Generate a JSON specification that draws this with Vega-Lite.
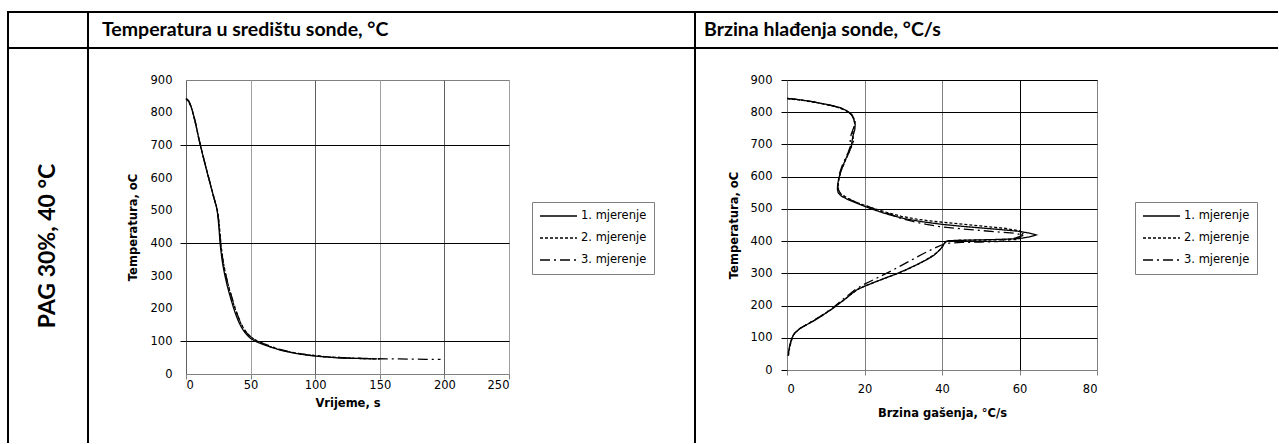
{
  "$schema": "https://vega.github.io/schema/vega-lite/v6.json",
  "padding": {"left": 7, "top": 11, "right": 0, "bottom": 0},
  "background": "white",
  "spacing": 0,
  "resolve": {"scale": {"strokeDash": "independent"}, "legend": {"strokeDash": "independent"}},
  "config": {
    "view": {"stroke": null},
    "concat": {"spacing": 0},
    "font": "DejaVu Sans",
    "axis": {"labelFont": "DejaVu Sans", "labelFontSize": 11.5, "labelColor": "black", "titleFont": "DejaVu Sans", "titleFontSize": 11.5, "titleFontWeight": "bold", "titleColor": "black", "domain": false},
    "legend": {"orient": "none", "title": null, "symbolType": "stroke", "symbolSize": 1369, "symbolStrokeWidth": 1.5, "symbolStrokeColor": "black", "clipHeight": 14, "rowPadding": 8, "labelOffset": 3, "padding": 7, "strokeColor": "#808080", "fillColor": "white", "labelFont": "DejaVu Sans", "labelFontSize": 11.5, "labelColor": "black"}
  },
  "datasets": {
    "temp": [
      {"m":"1. mjerenje","t":0,"T":843},{"m":"1. mjerenje","t":1,"T":841},{"m":"1. mjerenje","t":2,"T":836},{"m":"1. mjerenje","t":3,"T":829},{"m":"1. mjerenje","t":4,"T":818},{"m":"1. mjerenje","t":5,"T":805},{"m":"1. mjerenje","t":6,"T":790},{"m":"1. mjerenje","t":7,"T":775},{"m":"1. mjerenje","t":8,"T":757},{"m":"1. mjerenje","t":9,"T":738},{"m":"1. mjerenje","t":10,"T":719},{"m":"1. mjerenje","t":11,"T":702},{"m":"1. mjerenje","t":12,"T":686},{"m":"1. mjerenje","t":13,"T":670},{"m":"1. mjerenje","t":14,"T":654},{"m":"1. mjerenje","t":15,"T":638},{"m":"1. mjerenje","t":16,"T":623},{"m":"1. mjerenje","t":17,"T":608},{"m":"1. mjerenje","t":18,"T":593},{"m":"1. mjerenje","t":19,"T":578},{"m":"1. mjerenje","t":20,"T":563},{"m":"1. mjerenje","t":21,"T":548},{"m":"1. mjerenje","t":22,"T":534},{"m":"1. mjerenje","t":23,"T":520},{"m":"1. mjerenje","t":23.8,"T":507},{"m":"1. mjerenje","t":24.4,"T":492},{"m":"1. mjerenje","t":25,"T":470},{"m":"1. mjerenje","t":25.7,"T":438},{"m":"1. mjerenje","t":26.4,"T":400},{"m":"1. mjerenje","t":27,"T":378},{"m":"1. mjerenje","t":27.7,"T":356},{"m":"1. mjerenje","t":28.5,"T":334},{"m":"1. mjerenje","t":29.3,"T":317},{"m":"1. mjerenje","t":30.2,"T":300},{"m":"1. mjerenje","t":31.1,"T":284},{"m":"1. mjerenje","t":32,"T":269},{"m":"1. mjerenje","t":33,"T":254},{"m":"1. mjerenje","t":34,"T":240},{"m":"1. mjerenje","t":35.3,"T":222},{"m":"1. mjerenje","t":36.7,"T":204},{"m":"1. mjerenje","t":38,"T":188},{"m":"1. mjerenje","t":39.5,"T":172},{"m":"1. mjerenje","t":41,"T":158},{"m":"1. mjerenje","t":42.5,"T":146},{"m":"1. mjerenje","t":44,"T":136},{"m":"1. mjerenje","t":46,"T":125},{"m":"1. mjerenje","t":48,"T":116},{"m":"1. mjerenje","t":50,"T":109},{"m":"1. mjerenje","t":53,"T":102},{"m":"1. mjerenje","t":56,"T":96},{"m":"1. mjerenje","t":60,"T":90},{"m":"1. mjerenje","t":65,"T":83},{"m":"1. mjerenje","t":70,"T":77},{"m":"1. mjerenje","t":75,"T":71},{"m":"1. mjerenje","t":80,"T":67},{"m":"1. mjerenje","t":85,"T":63},{"m":"1. mjerenje","t":90,"T":60},{"m":"1. mjerenje","t":95,"T":57},{"m":"1. mjerenje","t":100,"T":55},{"m":"1. mjerenje","t":105,"T":53},{"m":"1. mjerenje","t":110,"T":52},{"m":"1. mjerenje","t":115,"T":50},{"m":"1. mjerenje","t":120,"T":49},{"m":"1. mjerenje","t":130,"T":48},{"m":"1. mjerenje","t":140,"T":47},{"m":"1. mjerenje","t":148,"T":46},
      {"m":"2. mjerenje","t":0,"T":842},{"m":"2. mjerenje","t":2,"T":835},{"m":"2. mjerenje","t":4,"T":817},{"m":"2. mjerenje","t":6,"T":789},{"m":"2. mjerenje","t":8,"T":756},{"m":"2. mjerenje","t":10,"T":718},{"m":"2. mjerenje","t":12,"T":686},{"m":"2. mjerenje","t":14,"T":655},{"m":"2. mjerenje","t":16,"T":624},{"m":"2. mjerenje","t":18,"T":594},{"m":"2. mjerenje","t":20,"T":564},{"m":"2. mjerenje","t":22,"T":535},{"m":"2. mjerenje","t":23.5,"T":514},{"m":"2. mjerenje","t":24.6,"T":494},{"m":"2. mjerenje","t":25.5,"T":466},{"m":"2. mjerenje","t":26.3,"T":432},{"m":"2. mjerenje","t":27,"T":400},{"m":"2. mjerenje","t":27.7,"T":376},{"m":"2. mjerenje","t":28.5,"T":352},{"m":"2. mjerenje","t":29.4,"T":330},{"m":"2. mjerenje","t":30.5,"T":308},{"m":"2. mjerenje","t":31.6,"T":289},{"m":"2. mjerenje","t":32.7,"T":272},{"m":"2. mjerenje","t":34,"T":252},{"m":"2. mjerenje","t":35.5,"T":232},{"m":"2. mjerenje","t":37,"T":212},{"m":"2. mjerenje","t":38.5,"T":194},{"m":"2. mjerenje","t":40,"T":178},{"m":"2. mjerenje","t":41.5,"T":163},{"m":"2. mjerenje","t":43,"T":150},{"m":"2. mjerenje","t":45,"T":137},{"m":"2. mjerenje","t":47,"T":126},{"m":"2. mjerenje","t":50,"T":114},{"m":"2. mjerenje","t":53,"T":105},{"m":"2. mjerenje","t":57,"T":97},{"m":"2. mjerenje","t":62,"T":88},{"m":"2. mjerenje","t":68,"T":80},{"m":"2. mjerenje","t":75,"T":72},{"m":"2. mjerenje","t":82,"T":66},{"m":"2. mjerenje","t":90,"T":61},{"m":"2. mjerenje","t":100,"T":56},{"m":"2. mjerenje","t":110,"T":52},{"m":"2. mjerenje","t":120,"T":50},{"m":"2. mjerenje","t":130,"T":48},{"m":"2. mjerenje","t":140,"T":47},{"m":"2. mjerenje","t":150,"T":46},
      {"m":"3. mjerenje","t":0,"T":843},{"m":"3. mjerenje","t":2,"T":836},{"m":"3. mjerenje","t":4,"T":818},{"m":"3. mjerenje","t":6,"T":791},{"m":"3. mjerenje","t":8,"T":758},{"m":"3. mjerenje","t":10,"T":720},{"m":"3. mjerenje","t":12,"T":687},{"m":"3. mjerenje","t":14,"T":655},{"m":"3. mjerenje","t":16,"T":624},{"m":"3. mjerenje","t":18,"T":594},{"m":"3. mjerenje","t":20,"T":563},{"m":"3. mjerenje","t":22,"T":533},{"m":"3. mjerenje","t":23.5,"T":512},{"m":"3. mjerenje","t":24.5,"T":495},{"m":"3. mjerenje","t":25.3,"T":470},{"m":"3. mjerenje","t":26,"T":440},{"m":"3. mjerenje","t":26.7,"T":405},{"m":"3. mjerenje","t":27.4,"T":380},{"m":"3. mjerenje","t":28.2,"T":358},{"m":"3. mjerenje","t":29,"T":338},{"m":"3. mjerenje","t":30,"T":318},{"m":"3. mjerenje","t":31.2,"T":297},{"m":"3. mjerenje","t":32.5,"T":276},{"m":"3. mjerenje","t":34,"T":255},{"m":"3. mjerenje","t":35.5,"T":235},{"m":"3. mjerenje","t":37,"T":215},{"m":"3. mjerenje","t":38.5,"T":197},{"m":"3. mjerenje","t":40,"T":180},{"m":"3. mjerenje","t":42,"T":160},{"m":"3. mjerenje","t":44,"T":143},{"m":"3. mjerenje","t":46,"T":130},{"m":"3. mjerenje","t":48.5,"T":119},{"m":"3. mjerenje","t":51,"T":111},{"m":"3. mjerenje","t":55,"T":102},{"m":"3. mjerenje","t":60,"T":93},{"m":"3. mjerenje","t":66,"T":84},{"m":"3. mjerenje","t":72,"T":76},{"m":"3. mjerenje","t":80,"T":68},{"m":"3. mjerenje","t":88,"T":62},{"m":"3. mjerenje","t":96,"T":58},{"m":"3. mjerenje","t":105,"T":54},{"m":"3. mjerenje","t":115,"T":51},{"m":"3. mjerenje","t":125,"T":49},{"m":"3. mjerenje","t":135,"T":48},{"m":"3. mjerenje","t":145,"T":47},{"m":"3. mjerenje","t":155,"T":46},{"m":"3. mjerenje","t":165,"T":46},{"m":"3. mjerenje","t":175,"T":45.5},{"m":"3. mjerenje","t":185,"T":45},{"m":"3. mjerenje","t":197,"T":45}
    ],
    "rate": [
      {"m":"1. mjerenje","r":0,"T":843},{"m":"1. mjerenje","r":3,"T":839},{"m":"1. mjerenje","r":6,"T":834},{"m":"1. mjerenje","r":9,"T":827},{"m":"1. mjerenje","r":12,"T":820},{"m":"1. mjerenje","r":14,"T":813},{"m":"1. mjerenje","r":15.5,"T":804},{"m":"1. mjerenje","r":16.6,"T":793},{"m":"1. mjerenje","r":17.2,"T":779},{"m":"1. mjerenje","r":17.6,"T":762},{"m":"1. mjerenje","r":17.5,"T":746},{"m":"1. mjerenje","r":17.1,"T":730},{"m":"1. mjerenje","r":16.8,"T":712},{"m":"1. mjerenje","r":16.6,"T":694},{"m":"1. mjerenje","r":16,"T":675},{"m":"1. mjerenje","r":15.2,"T":656},{"m":"1. mjerenje","r":14.5,"T":636},{"m":"1. mjerenje","r":13.9,"T":616},{"m":"1. mjerenje","r":13.4,"T":596},{"m":"1. mjerenje","r":13.1,"T":578},{"m":"1. mjerenje","r":13,"T":562},{"m":"1. mjerenje","r":13.2,"T":550},{"m":"1. mjerenje","r":14,"T":540},{"m":"1. mjerenje","r":15.5,"T":530},{"m":"1. mjerenje","r":17.5,"T":520},{"m":"1. mjerenje","r":19.8,"T":509},{"m":"1. mjerenje","r":22,"T":499},{"m":"1. mjerenje","r":24.5,"T":489},{"m":"1. mjerenje","r":27.5,"T":478},{"m":"1. mjerenje","r":31,"T":468},{"m":"1. mjerenje","r":35,"T":460},{"m":"1. mjerenje","r":40,"T":452},{"m":"1. mjerenje","r":46,"T":445},{"m":"1. mjerenje","r":53,"T":438},{"m":"1. mjerenje","r":59.4,"T":431},{"m":"1. mjerenje","r":62.5,"T":425},{"m":"1. mjerenje","r":64.3,"T":419},{"m":"1. mjerenje","r":62.5,"T":413},{"m":"1. mjerenje","r":60,"T":408},{"m":"1. mjerenje","r":54,"T":405},{"m":"1. mjerenje","r":47,"T":403},{"m":"1. mjerenje","r":41.5,"T":401},{"m":"1. mjerenje","r":40.8,"T":396},{"m":"1. mjerenje","r":40.3,"T":388},{"m":"1. mjerenje","r":39.8,"T":378},{"m":"1. mjerenje","r":39,"T":368},{"m":"1. mjerenje","r":37.8,"T":355},{"m":"1. mjerenje","r":36,"T":342},{"m":"1. mjerenje","r":33.5,"T":327},{"m":"1. mjerenje","r":30.5,"T":310},{"m":"1. mjerenje","r":27.5,"T":295},{"m":"1. mjerenje","r":24,"T":279},{"m":"1. mjerenje","r":20.6,"T":263},{"m":"1. mjerenje","r":18.2,"T":250},{"m":"1. mjerenje","r":16.6,"T":236},{"m":"1. mjerenje","r":15,"T":220},{"m":"1. mjerenje","r":13.2,"T":204},{"m":"1. mjerenje","r":11.7,"T":190},{"m":"1. mjerenje","r":10.2,"T":178},{"m":"1. mjerenje","r":8.6,"T":165},{"m":"1. mjerenje","r":6.8,"T":152},{"m":"1. mjerenje","r":5,"T":140},{"m":"1. mjerenje","r":3.4,"T":129},{"m":"1. mjerenje","r":2.2,"T":117},{"m":"1. mjerenje","r":1.6,"T":108},{"m":"1. mjerenje","r":1.2,"T":96},{"m":"1. mjerenje","r":0.9,"T":84},{"m":"1. mjerenje","r":0.6,"T":70},{"m":"1. mjerenje","r":0.4,"T":56},{"m":"1. mjerenje","r":0.3,"T":44},
      {"m":"2. mjerenje","r":0,"T":842},{"m":"2. mjerenje","r":4,"T":837},{"m":"2. mjerenje","r":8,"T":829},{"m":"2. mjerenje","r":12,"T":819},{"m":"2. mjerenje","r":15,"T":807},{"m":"2. mjerenje","r":16.8,"T":792},{"m":"2. mjerenje","r":17.6,"T":772},{"m":"2. mjerenje","r":17.3,"T":752},{"m":"2. mjerenje","r":16.9,"T":732},{"m":"2. mjerenje","r":17.2,"T":712},{"m":"2. mjerenje","r":16.5,"T":690},{"m":"2. mjerenje","r":15.6,"T":665},{"m":"2. mjerenje","r":14.8,"T":642},{"m":"2. mjerenje","r":14,"T":620},{"m":"2. mjerenje","r":13.5,"T":598},{"m":"2. mjerenje","r":13.2,"T":578},{"m":"2. mjerenje","r":13.3,"T":558},{"m":"2. mjerenje","r":14,"T":545},{"m":"2. mjerenje","r":15.8,"T":532},{"m":"2. mjerenje","r":18,"T":520},{"m":"2. mjerenje","r":20.5,"T":509},{"m":"2. mjerenje","r":23,"T":499},{"m":"2. mjerenje","r":26,"T":488},{"m":"2. mjerenje","r":29.5,"T":477},{"m":"2. mjerenje","r":33.5,"T":468},{"m":"2. mjerenje","r":38,"T":461},{"m":"2. mjerenje","r":44,"T":454},{"m":"2. mjerenje","r":50,"T":447},{"m":"2. mjerenje","r":56,"T":440},{"m":"2. mjerenje","r":60,"T":432},{"m":"2. mjerenje","r":61,"T":426},{"m":"2. mjerenje","r":60.5,"T":418},{"m":"2. mjerenje","r":59.8,"T":410},{"m":"2. mjerenje","r":59.5,"T":405},{"m":"2. mjerenje","r":52,"T":403.5},{"m":"2. mjerenje","r":43,"T":402.5},{"m":"2. mjerenje","r":41,"T":399},{"m":"2. mjerenje","r":40.5,"T":390},{"m":"2. mjerenje","r":40,"T":380},{"m":"2. mjerenje","r":39.2,"T":370},{"m":"2. mjerenje","r":37.9,"T":357},{"m":"2. mjerenje","r":36,"T":343},{"m":"2. mjerenje","r":33.8,"T":328},{"m":"2. mjerenje","r":30.8,"T":311},{"m":"2. mjerenje","r":27.8,"T":296},{"m":"2. mjerenje","r":24.2,"T":280},{"m":"2. mjerenje","r":20.8,"T":264},{"m":"2. mjerenje","r":18.3,"T":251},{"m":"2. mjerenje","r":16.7,"T":237},{"m":"2. mjerenje","r":15.1,"T":221},{"m":"2. mjerenje","r":13.3,"T":205},{"m":"2. mjerenje","r":11.8,"T":191},{"m":"2. mjerenje","r":10.3,"T":179},{"m":"2. mjerenje","r":8.7,"T":166},{"m":"2. mjerenje","r":6.9,"T":153},{"m":"2. mjerenje","r":5.1,"T":141},{"m":"2. mjerenje","r":3.5,"T":130},{"m":"2. mjerenje","r":2.3,"T":118},{"m":"2. mjerenje","r":1.7,"T":109},{"m":"2. mjerenje","r":1.3,"T":97},{"m":"2. mjerenje","r":1,"T":85},{"m":"2. mjerenje","r":0.7,"T":71},{"m":"2. mjerenje","r":0.5,"T":57},{"m":"2. mjerenje","r":0.4,"T":45},
      {"m":"3. mjerenje","r":0,"T":843},{"m":"3. mjerenje","r":3,"T":839},{"m":"3. mjerenje","r":7,"T":832},{"m":"3. mjerenje","r":11,"T":822},{"m":"3. mjerenje","r":14,"T":812},{"m":"3. mjerenje","r":16,"T":800},{"m":"3. mjerenje","r":17,"T":787},{"m":"3. mjerenje","r":17.4,"T":770},{"m":"3. mjerenje","r":17.2,"T":752},{"m":"3. mjerenje","r":16.6,"T":733},{"m":"3. mjerenje","r":16.3,"T":714},{"m":"3. mjerenje","r":16.4,"T":696},{"m":"3. mjerenje","r":15.8,"T":676},{"m":"3. mjerenje","r":15,"T":655},{"m":"3. mjerenje","r":14.2,"T":633},{"m":"3. mjerenje","r":13.6,"T":612},{"m":"3. mjerenje","r":13.3,"T":592},{"m":"3. mjerenje","r":13.1,"T":575},{"m":"3. mjerenje","r":13.2,"T":560},{"m":"3. mjerenje","r":13.8,"T":548},{"m":"3. mjerenje","r":15,"T":537},{"m":"3. mjerenje","r":16.8,"T":526},{"m":"3. mjerenje","r":19,"T":515},{"m":"3. mjerenje","r":21.5,"T":505},{"m":"3. mjerenje","r":24,"T":494},{"m":"3. mjerenje","r":27,"T":482},{"m":"3. mjerenje","r":29.5,"T":470},{"m":"3. mjerenje","r":32.5,"T":461},{"m":"3. mjerenje","r":36,"T":452},{"m":"3. mjerenje","r":40,"T":444},{"m":"3. mjerenje","r":45,"T":438},{"m":"3. mjerenje","r":50,"T":433},{"m":"3. mjerenje","r":55,"T":428},{"m":"3. mjerenje","r":59,"T":424},{"m":"3. mjerenje","r":61,"T":418},{"m":"3. mjerenje","r":59,"T":410},{"m":"3. mjerenje","r":57,"T":403},{"m":"3. mjerenje","r":55,"T":399},{"m":"3. mjerenje","r":50,"T":397},{"m":"3. mjerenje","r":45,"T":396},{"m":"3. mjerenje","r":42,"T":394},{"m":"3. mjerenje","r":40.5,"T":391},{"m":"3. mjerenje","r":38.8,"T":382},{"m":"3. mjerenje","r":37,"T":372},{"m":"3. mjerenje","r":35,"T":360},{"m":"3. mjerenje","r":33,"T":347},{"m":"3. mjerenje","r":31,"T":334},{"m":"3. mjerenje","r":29,"T":321},{"m":"3. mjerenje","r":26.8,"T":307},{"m":"3. mjerenje","r":24.3,"T":292},{"m":"3. mjerenje","r":21.8,"T":277},{"m":"3. mjerenje","r":19.6,"T":264},{"m":"3. mjerenje","r":17.8,"T":251},{"m":"3. mjerenje","r":16.2,"T":236},{"m":"3. mjerenje","r":14.6,"T":221},{"m":"3. mjerenje","r":13,"T":205},{"m":"3. mjerenje","r":11.6,"T":191},{"m":"3. mjerenje","r":10.1,"T":179},{"m":"3. mjerenje","r":8.5,"T":166},{"m":"3. mjerenje","r":6.7,"T":153},{"m":"3. mjerenje","r":4.9,"T":140},{"m":"3. mjerenje","r":3.3,"T":129},{"m":"3. mjerenje","r":2.2,"T":118},{"m":"3. mjerenje","r":1.6,"T":108},{"m":"3. mjerenje","r":1.2,"T":96},{"m":"3. mjerenje","r":0.9,"T":84},{"m":"3. mjerenje","r":0.6,"T":70},{"m":"3. mjerenje","r":0.4,"T":56},{"m":"3. mjerenje","r":0.3,"T":44}
    ]
  },
  "hconcat": [
    {"width": 2, "height": 432, "data": {"values": []}, "mark": "point", "view": {"fill": "black", "stroke": null}},
    {
      "spacing": 0,
      "vconcat": [
        {"width": 78, "height": 2, "data": {"values": []}, "mark": "point", "view": {"fill": "black", "stroke": null}},
        {"width": 78, "height": 34, "data": {"values": []}, "mark": "point"},
        {"width": 78, "height": 2, "data": {"values": []}, "mark": "point", "view": {"fill": "black", "stroke": null}},
        {"width": 78, "height": 394, "data": {"values": [{"label": "PAG 30%, 40 °C"}]}, "mark": {"type": "text", "angle": 270, "font": "Lato", "fontWeight": "bold", "fontSize": 23, "align": "center", "baseline": "middle", "color": "black"}, "encoding": {"text": {"field": "label"}}}
      ]
    },
    {"width": 2, "height": 432, "data": {"values": []}, "mark": "point", "view": {"fill": "black", "stroke": null}},
    {
      "spacing": 0,
      "resolve": {"scale": {"strokeDash": "independent"}, "legend": {"strokeDash": "independent"}},
      "vconcat": [
        {"width": 605, "height": 2, "data": {"values": []}, "mark": "point", "view": {"fill": "black", "stroke": null}},
        {"width": 26, "height": 34, "data": {"values": [{"label": "Temperatura u središtu sonde, °C"}]}, "mark": {"type": "text", "font": "Lato", "fontWeight": "bold", "fontSize": 19.5, "align": "left", "baseline": "middle", "color": "black"}, "encoding": {"text": {"field": "label"}}},
        {"width": 605, "height": 2, "data": {"values": []}, "mark": "point", "view": {"fill": "black", "stroke": null}},
        {
          "spacing": 0,
          "resolve": {"scale": {"strokeDash": "independent"}, "legend": {"strokeDash": "independent"}},
          "hconcat": [
            {"width": 37, "height": 1, "data": {"values": []}, "mark": "point"},
            {
              "spacing": 0,
              "resolve": {"scale": {"strokeDash": "independent"}, "legend": {"strokeDash": "independent"}},
              "vconcat": [
                {"width": 1, "height": 24, "data": {"values": []}, "mark": "point"},
                {
                  "width": 323, "height": 294,
                  "data": {"name": "temp"},
                  "view": {"stroke": "#808080", "strokeWidth": 1},
                  "mark": {"type": "line", "color": "black", "strokeWidth": 1.3},
                  "encoding": {
                    "x": {"field": "t", "type": "quantitative", "scale": {"domain": [0, 250], "nice": false},
                      "axis": {"title": "Vrijeme, s", "values": [0, 50, 100, 150, 200, 250], "grid": true,
                        "gridColor": {"condition": {"test": "datum.value % 100 === 0", "value": "#606060"}, "value": "#a0a0a0"},
                        "tickColor": "#808080", "tickSize": 5, "labelPadding": 0, "titlePadding": 7}},
                    "y": {"field": "T", "type": "quantitative", "scale": {"domain": [0, 900], "nice": false},
                      "axis": {"title": "Temperatura, oC", "values": [0, 100, 200, 300, 400, 500, 600, 700, 800, 900], "grid": true,
                        "gridColor": "black",
                        "gridOpacity": {"condition": {"test": "datum.value === 100 || datum.value === 400 || datum.value === 700", "value": 1}, "value": 0},
                        "tickColor": "black",
                        "tickOpacity": {"condition": {"test": "datum.value === 100 || datum.value === 400 || datum.value === 700", "value": 1}, "value": 0},
                        "tickSize": 6, "labelPadding": 8, "titlePadding": 12}},
                    "strokeDash": {"field": "m", "type": "nominal",
                      "scale": {"domain": ["1. mjerenje", "2. mjerenje", "3. mjerenje"], "range": [[1, 0], [3, 2], [10, 4, 2, 4]]},
                      "legend": {"legendX": 346, "legendY": 122}},
                    "order": {"field": "t", "type": "quantitative"}
                  }
                }
              ]
            }
          ]
        }
      ]
    },
    {"width": 2, "height": 432, "data": {"values": []}, "mark": "point", "view": {"fill": "black", "stroke": null}},
    {
      "spacing": 0,
      "resolve": {"scale": {"strokeDash": "independent"}, "legend": {"strokeDash": "independent"}},
      "vconcat": [
        {"width": 582, "height": 2, "data": {"values": []}, "mark": "point", "view": {"fill": "black", "stroke": null}},
        {"width": 16, "height": 34, "data": {"values": [{"label": "Brzina hlađenja sonde, °C/s"}]}, "mark": {"type": "text", "font": "Lato", "fontWeight": "bold", "fontSize": 19.5, "align": "left", "baseline": "middle", "color": "black"}, "encoding": {"text": {"field": "label"}}},
        {"width": 582, "height": 2, "data": {"values": []}, "mark": "point", "view": {"fill": "black", "stroke": null}},
        {
          "spacing": 0,
          "resolve": {"scale": {"strokeDash": "independent"}, "legend": {"strokeDash": "independent"}},
          "hconcat": [
            {"width": 31, "height": 1, "data": {"values": []}, "mark": "point"},
            {
              "spacing": 0,
              "resolve": {"scale": {"strokeDash": "independent"}, "legend": {"strokeDash": "independent"}},
              "vconcat": [
                {"width": 1, "height": 24, "data": {"values": []}, "mark": "point"},
                {
                  "width": 310, "height": 290,
                  "data": {"name": "rate"},
                  "view": {"stroke": "#808080", "strokeWidth": 1},
                  "mark": {"type": "line", "color": "black", "strokeWidth": 1.3},
                  "encoding": {
                    "x": {"field": "r", "type": "quantitative", "scale": {"domain": [0, 80], "nice": false},
                      "axis": {"title": "Brzina gašenja, °C/s", "values": [0, 20, 40, 60, 80], "grid": true,
                        "gridColor": {"condition": {"test": "datum.value === 60", "value": "black"}, "value": "#808080"},
                        "tickColor": "#808080", "tickSize": 5, "labelPadding": 8, "titlePadding": 13}},
                    "y": {"field": "T", "type": "quantitative", "scale": {"domain": [0, 900], "nice": false},
                      "axis": {"title": "Temperatura, oC", "values": [0, 100, 200, 300, 400, 500, 600, 700, 800, 900], "grid": true,
                        "gridColor": "black",
                        "gridOpacity": {"condition": {"test": "datum.value === 0", "value": 0}, "value": 1},
                        "tickColor": "black", "tickSize": 6, "labelPadding": 9, "titlePadding": 11}},
                    "strokeDash": {"field": "m", "type": "nominal",
                      "scale": {"domain": ["1. mjerenje", "2. mjerenje", "3. mjerenje"], "range": [[1, 0], [3, 2], [10, 4, 2, 4]]},
                      "legend": {"legendX": 348, "legendY": 122}},
                    "order": {"field": "T", "type": "quantitative", "sort": "descending"}
                  }
                }
              ]
            }
          ]
        }
      ]
    }
  ]
}
